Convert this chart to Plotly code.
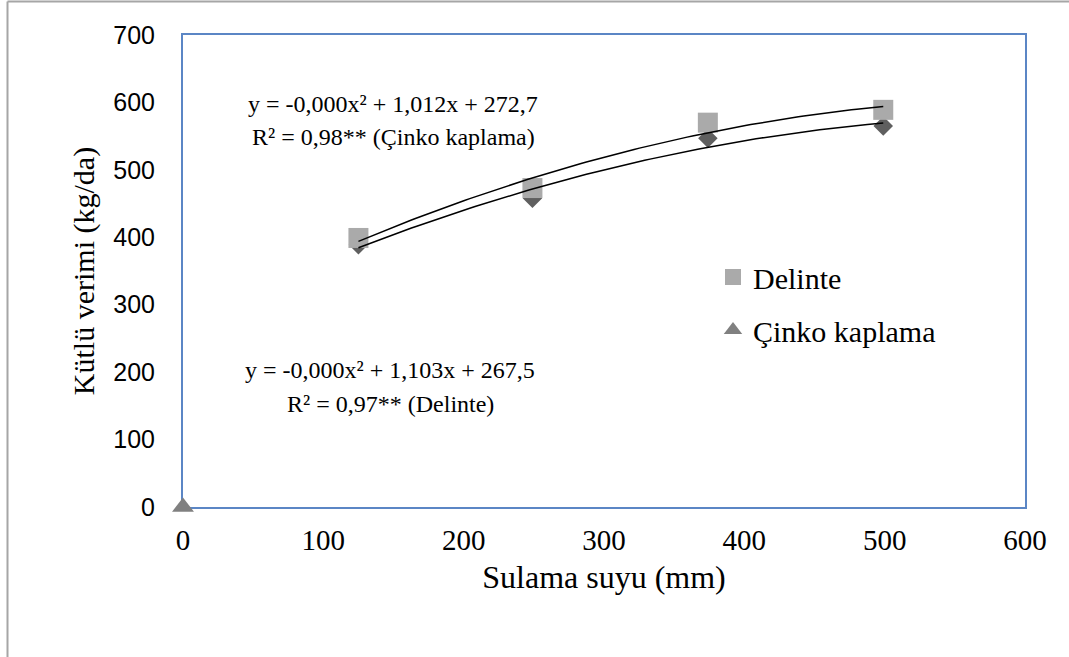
import numpy as np
import plotly.graph_objects as go

# Data
sulama = [125, 249, 374, 499]
delinte = [399, 473, 570, 589]
cinko = [389, 458, 547, 565]
origin_x = [0]
origin_y = [0]

x_ticks = [0, 100, 200, 300, 400, 500, 600]
y_ticks = [0, 100, 200, 300, 400, 500, 600, 700]

eq_cinko = ["y = -0,000x² + 1,012x + 272,7", "R² = 0,98** (Çinko kaplama)"]
eq_delinte = ["y = -0,000x² + 1,103x + 267,5", "R² = 0,97** (Delinte)"]

serif = "Liberation Serif, Times New Roman, serif"
sans = "Liberation Sans, Arial, sans-serif"

# quadratic trendlines fitted to the series
xs = np.linspace(min(sulama), max(sulama), 100)
fit_d = np.polyval(np.polyfit(sulama, delinte, 2), xs)
fit_c = np.polyval(np.polyfit(sulama, cinko, 2), xs)

fig = go.Figure()
fig.add_trace(go.Scatter(x=sulama, y=cinko, mode="markers", showlegend=False,
                         marker=dict(symbol="diamond", size=15, color="#5f5f5f")))
fig.add_trace(go.Scatter(x=sulama, y=delinte, mode="markers", name="Delinte",
                         legendgroup="a",
                         marker=dict(symbol="square", size=20, color="#aaaaaa")))
fig.add_trace(go.Scatter(x=origin_x, y=origin_y, mode="markers", name="Çinko kaplama",
                         legendgroup="b", cliponaxis=False,
                         marker=dict(symbol="triangle-up", size=19, color="#808080")))
fig.add_trace(go.Scatter(x=xs, y=fit_d, mode="lines", showlegend=False,
                         line=dict(color="black", width=1.5)))
fig.add_trace(go.Scatter(x=xs, y=fit_c, mode="lines", showlegend=False,
                         line=dict(color="black", width=1.5)))

W, H = 1069, 657
L, R, T, B = 183, 44, 35, 150
pw, ph = W - L - R, H - T - B

def px(x):
    return (x - L) / pw

def py(y):
    return (H - B - y) / ph

ann_font = dict(family=serif, size=24, color="black")

fig.update_layout(
    width=W, height=H,
    margin=dict(l=L, r=R, t=T, b=B),
    paper_bgcolor="white", plot_bgcolor="white",
    showlegend=True,
    legend=dict(x=px(713), y=py(251), xanchor="left", yanchor="top",
                font=dict(family=serif, size=30, color="black"),
                tracegroupgap=11, itemwidth=30, bgcolor="rgba(0,0,0,0)"),
    xaxis=dict(range=[0, 600], tickvals=x_ticks, showgrid=False, zeroline=False,
               showline=True, mirror=True, linecolor="#5b86c5", linewidth=2,
               layer="below traces",
               ticks="", tickfont=dict(family=serif, size=29, color="black"),
               ticklabelstandoff=6,
               title=dict(text="Sulama suyu (mm)", standoff=11,
                          font=dict(family=serif, size=32, color="black"))),
    yaxis=dict(range=[0, 700], tickvals=y_ticks, showgrid=False, zeroline=False,
               showline=True, mirror=True, linecolor="#5b86c5", linewidth=2,
               layer="below traces",
               ticks="", tickfont=dict(family=sans, size=25, color="black"),
               ticklabelstandoff=21,
               title=dict(text="Kütlü verimi (kg/da)", standoff=10,
                          font=dict(family=serif, size=30, color="black"))),
    shapes=[
        dict(type="line", xref="paper", yref="paper", x0=px(7.5), x1=px(W + 5),
             y0=py(1.5), y1=py(1.5), line=dict(color="#a6a6a6", width=2)),
        dict(type="line", xref="paper", yref="paper", x0=px(7.5), x1=px(7.5),
             y0=py(1.5), y1=py(H + 5), line=dict(color="#a6a6a6", width=2)),
    ],
    annotations=[
        dict(xref="paper", yref="paper", x=px(393), y=py(104), text=eq_cinko[0],
             xanchor="center", yanchor="middle", showarrow=False, font=ann_font),
        dict(xref="paper", yref="paper", x=px(393), y=py(137), text=eq_cinko[1],
             xanchor="center", yanchor="middle", showarrow=False, font=ann_font),
        dict(xref="paper", yref="paper", x=px(390), y=py(370), text=eq_delinte[0],
             xanchor="center", yanchor="middle", showarrow=False, font=ann_font),
        dict(xref="paper", yref="paper", x=px(390), y=py(404), text=eq_delinte[1],
             xanchor="center", yanchor="middle", showarrow=False, font=ann_font),
    ],
)

fig.write_html("out.html", config={"displayModeBar": False},
               post_script="document.body.style.margin='0px';document.body.style.overflow='hidden';")
